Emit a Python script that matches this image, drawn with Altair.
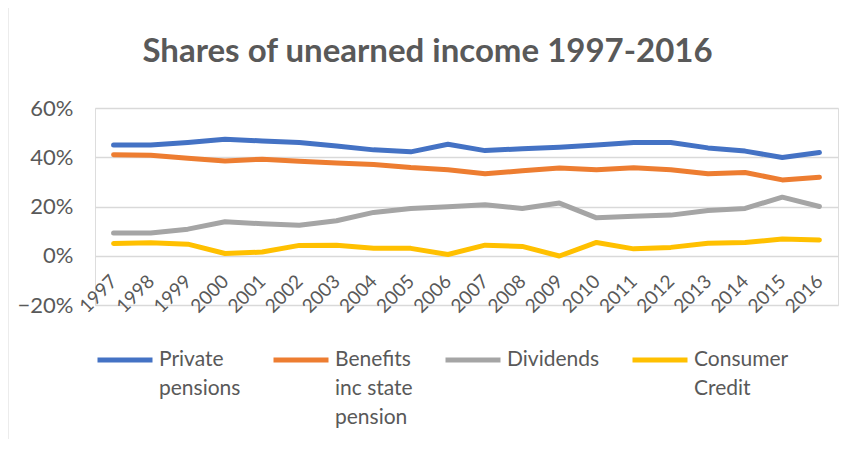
import altair as alt
import pandas as pd

years = [str(y) for y in range(1997, 2017)]
series_names = ["Private pensions", "Benefits inc state pension", "Dividends", "Consumer Credit"]
private_pensions = [45.0, 45.0, 46.0, 47.3, 46.6, 46.0, 44.6, 43.0, 42.2, 45.3,
                    42.7, 43.5, 44.1, 45.0, 46.0, 46.0, 43.8, 42.5, 39.9, 41.9]
benefits = [41.0, 40.8, 39.6, 38.5, 39.2, 38.4, 37.7, 37.1, 35.8, 34.9,
            33.3, 34.5, 35.6, 34.9, 35.7, 34.9, 33.3, 33.8, 30.8, 31.9]
dividends = [9.2, 9.2, 10.8, 13.8, 13.0, 12.4, 14.2, 17.6, 19.2, 19.9,
             20.7, 19.2, 21.4, 15.4, 16.0, 16.5, 18.4, 19.2, 23.8, 20.0]
consumer_credit = [5.0, 5.3, 4.7, 0.9, 1.5, 4.2, 4.3, 3.0, 3.0, 0.5,
                   4.3, 3.8, -0.1, 5.4, 2.8, 3.4, 5.1, 5.4, 6.8, 6.4]
colors = ["#4472C4", "#ED7D31", "#A5A5A5", "#FFC000"]

rows = []
for name, vals in zip(series_names, [private_pensions, benefits, dividends, consumer_credit]):
    for y, v in zip(years, vals):
        rows.append({"Year": y, "Series": name, "Share": v / 100})
df = pd.DataFrame(rows)

label_expr = ("datum.label == 'Private pensions' ? ['Private', 'pensions', ''] : "
              "datum.label == 'Benefits inc state pension' ? ['Benefits', 'inc state', 'pension'] : "
              "datum.label == 'Consumer Credit' ? ['Consumer', 'Credit', ''] : [datum.label, '', '']")

lines = alt.Chart(df).mark_line(strokeWidth=5, strokeCap="round", strokeJoin="round").encode(
    x=alt.X("Year:O", sort=years, title=None,
            scale=alt.Scale(padding=0.5),
            axis=alt.Axis(labelAngle=-45, labelAlign="right", labelBaseline="middle",
                          offset=-49, domain=False, ticks=False, grid=False,
                          labelPadding=22, labelFontSize=19, labelColor="#595959",
                          labelFont="Lato")),
    y=alt.Y("Share:Q", title=None,
            scale=alt.Scale(domain=[-0.2, 0.6], nice=False, zero=False),
            axis=alt.Axis(values=[-0.2, 0, 0.2, 0.4, 0.6], format=".0%", domain=False,
                          ticks=False, gridColor="#D9D9D9", gridWidth=1.5,
                          labelPadding=22, labelFontSize=22, labelColor="#595959",
                          labelFont="Lato")),
    color=alt.Color("Series:N", sort=series_names,
                    scale=alt.Scale(domain=series_names, range=colors),
                    legend=alt.Legend(title=None, orient="none", legendX=0, legendY=222,
                                      direction="horizontal", columns=4, columnPadding=22,
                                      symbolType="stroke", symbolSize=3025,
                                      symbolStrokeWidth=5, labelFontSize=21,
                                      labelFont="Lato", labelColor="#595959",
                                      labelExpr=label_expr, labelBaseline="middle",
                                      labelOffset=4, labelLimit=200)),
    order=alt.Order("Year:O"),
)

border = alt.Chart(pd.DataFrame({"a": [0]})).mark_rule(color="#D9D9D9", strokeWidth=1).encode(
    x=alt.value(-87), y=alt.value(-100), y2=alt.value(334)
)

chart = alt.layer(border, lines).properties(
    width=743, height=197,
    autosize=alt.AutoSizeParams(type="none"),
    padding={"left": 87, "top": 100, "right": 8, "bottom": 134},
    title=alt.Title("Shares of unearned income 1997-2016", fontSize=33, fontWeight="bold",
                    font="Lato", color="#595959", anchor="middle", dx=-39, offset=-61),
).configure_view(stroke=None).configure(style={"guide-label": {"lineHeight": 29}})

chart.save("out.html", embed_options={"renderer": "svg", "actions": False})
